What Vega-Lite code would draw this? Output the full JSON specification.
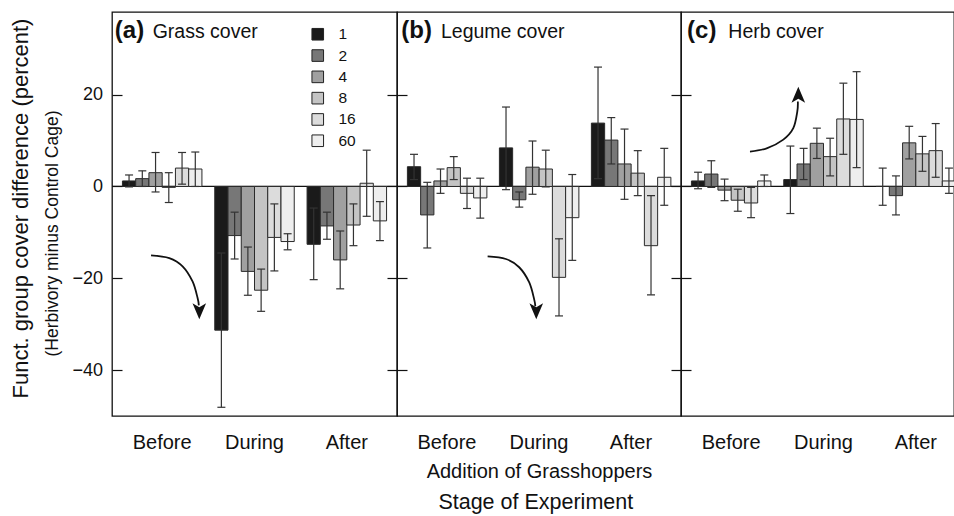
{
  "$schema": "https://vega.github.io/schema/vega-lite/v6.json",
  "padding": {"left": 8, "top": 11, "right": 0, "bottom": 0},
  "config": {
    "font": "Liberation Sans",
    "view": {"stroke": "#111", "strokeWidth": 1.3},
    "axis": {"minExtent": 0, "grid": false}
  },
  "datasets": {
    "bars": [
      {"panel": "a", "stage": "Before", "n": "1", "mean": 1.2, "lo": -0.1, "hi": 2.5},
      {"panel": "a", "stage": "Before", "n": "2", "mean": 1.7, "lo": 0.0, "hi": 3.4},
      {"panel": "a", "stage": "Before", "n": "4", "mean": 3.0, "lo": -1.2, "hi": 7.4},
      {"panel": "a", "stage": "Before", "n": "8", "mean": -0.2, "lo": -3.5, "hi": 3.0},
      {"panel": "a", "stage": "Before", "n": "16", "mean": 4.0, "lo": 0.5, "hi": 7.4},
      {"panel": "a", "stage": "Before", "n": "60", "mean": 3.8, "lo": 0.0, "hi": 7.5},
      {"panel": "a", "stage": "During", "n": "1", "mean": -31.3, "lo": -48.1, "hi": -14.5},
      {"panel": "a", "stage": "During", "n": "2", "mean": -10.7, "lo": -15.8, "hi": -5.6},
      {"panel": "a", "stage": "During", "n": "4", "mean": -18.5, "lo": -23.7, "hi": -13.2},
      {"panel": "a", "stage": "During", "n": "8", "mean": -22.6, "lo": -27.2, "hi": -18.0},
      {"panel": "a", "stage": "During", "n": "16", "mean": -11.1, "lo": -18.4, "hi": -3.8},
      {"panel": "a", "stage": "During", "n": "60", "mean": -12.0, "lo": -13.8, "hi": -10.3},
      {"panel": "a", "stage": "After", "n": "1", "mean": -12.6, "lo": -20.3, "hi": -4.7},
      {"panel": "a", "stage": "After", "n": "2", "mean": -8.6, "lo": -11.5, "hi": -5.6},
      {"panel": "a", "stage": "After", "n": "4", "mean": -16.0, "lo": -22.3, "hi": -9.7},
      {"panel": "a", "stage": "After", "n": "8", "mean": -8.4, "lo": -12.9, "hi": -3.8},
      {"panel": "a", "stage": "After", "n": "16", "mean": 0.7, "lo": -6.5, "hi": 7.9},
      {"panel": "a", "stage": "After", "n": "60", "mean": -7.5, "lo": -11.8, "hi": -3.3},
      {"panel": "b", "stage": "Before", "n": "1", "mean": 4.3, "lo": 1.5, "hi": 7.0},
      {"panel": "b", "stage": "Before", "n": "2", "mean": -6.2, "lo": -13.4, "hi": 0.9},
      {"panel": "b", "stage": "Before", "n": "4", "mean": 1.2, "lo": -1.5, "hi": 3.8},
      {"panel": "b", "stage": "Before", "n": "8", "mean": 4.1, "lo": 1.5, "hi": 6.5},
      {"panel": "b", "stage": "Before", "n": "16", "mean": -1.5, "lo": -4.8, "hi": 1.8},
      {"panel": "b", "stage": "Before", "n": "60", "mean": -2.5, "lo": -6.9, "hi": 1.8},
      {"panel": "b", "stage": "During", "n": "1", "mean": 8.4, "lo": -0.7, "hi": 17.3},
      {"panel": "b", "stage": "During", "n": "2", "mean": -2.9, "lo": -4.5, "hi": -1.2},
      {"panel": "b", "stage": "During", "n": "4", "mean": 4.2, "lo": -1.7, "hi": 9.9},
      {"panel": "b", "stage": "During", "n": "8", "mean": 3.8, "lo": -0.1, "hi": 7.9},
      {"panel": "b", "stage": "During", "n": "16", "mean": -19.8, "lo": -28.2, "hi": -11.4},
      {"panel": "b", "stage": "During", "n": "60", "mean": -6.8, "lo": -16.1, "hi": 2.6},
      {"panel": "b", "stage": "After", "n": "1", "mean": 13.8, "lo": 1.7, "hi": 26.0},
      {"panel": "b", "stage": "After", "n": "2", "mean": 10.1, "lo": 4.9, "hi": 15.0},
      {"panel": "b", "stage": "After", "n": "4", "mean": 4.9, "lo": -2.8, "hi": 12.5},
      {"panel": "b", "stage": "After", "n": "8", "mean": 2.9, "lo": -2.0, "hi": 7.8},
      {"panel": "b", "stage": "After", "n": "16", "mean": -12.9, "lo": -23.6, "hi": -2.0},
      {"panel": "b", "stage": "After", "n": "60", "mean": 2.0, "lo": -4.1, "hi": 8.3},
      {"panel": "c", "stage": "Before", "n": "1", "mean": 1.2, "lo": -0.5, "hi": 3.1},
      {"panel": "c", "stage": "Before", "n": "2", "mean": 2.7, "lo": -0.2, "hi": 5.6},
      {"panel": "c", "stage": "Before", "n": "4", "mean": -0.8, "lo": -3.1, "hi": 1.6},
      {"panel": "c", "stage": "Before", "n": "8", "mean": -3.0, "lo": -5.4, "hi": -0.6},
      {"panel": "c", "stage": "Before", "n": "16", "mean": -3.6, "lo": -6.8, "hi": -0.2},
      {"panel": "c", "stage": "Before", "n": "60", "mean": 1.2, "lo": 0.0, "hi": 2.5},
      {"panel": "c", "stage": "During", "n": "1", "mean": 1.5, "lo": -5.9, "hi": 8.8},
      {"panel": "c", "stage": "During", "n": "2", "mean": 4.9, "lo": 1.5, "hi": 8.3},
      {"panel": "c", "stage": "During", "n": "4", "mean": 9.4, "lo": 6.1, "hi": 12.7},
      {"panel": "c", "stage": "During", "n": "8", "mean": 6.5, "lo": 2.3, "hi": 10.5},
      {"panel": "c", "stage": "During", "n": "16", "mean": 14.7, "lo": 7.0, "hi": 22.5},
      {"panel": "c", "stage": "During", "n": "60", "mean": 14.6, "lo": 4.1, "hi": 25.0},
      {"panel": "c", "stage": "After", "n": "1", "mean": 0.0, "lo": -4.1, "hi": 4.0},
      {"panel": "c", "stage": "After", "n": "2", "mean": -2.0, "lo": -6.2, "hi": 2.3},
      {"panel": "c", "stage": "After", "n": "4", "mean": 9.5, "lo": 6.0, "hi": 13.1},
      {"panel": "c", "stage": "After", "n": "8", "mean": 7.1, "lo": 3.3, "hi": 10.9},
      {"panel": "c", "stage": "After", "n": "16", "mean": 7.8, "lo": 2.0, "hi": 13.7},
      {"panel": "c", "stage": "After", "n": "60", "mean": 1.2, "lo": -1.5, "hi": 4.0}
    ],
    "arrows": [
      {"panel": "a", "ord": 1, "ax": 0.411, "ay": -15.0},
      {"panel": "a", "ord": 2, "ax": 0.603, "ay": -15.6},
      {"panel": "a", "ord": 3, "ax": 0.743, "ay": -17.4},
      {"panel": "a", "ord": 4, "ax": 0.848, "ay": -20.7},
      {"panel": "a", "ord": 5, "ax": 0.901, "ay": -24.3},
      {"panel": "a", "ord": 6, "ax": 0.914, "ay": -25.9},
      {"panel": "b", "ord": 1, "ax": 0.954, "ay": -15.25},
      {"panel": "b", "ord": 2, "ax": 1.146, "ay": -15.8},
      {"panel": "b", "ord": 3, "ax": 1.286, "ay": -17.6},
      {"panel": "b", "ord": 4, "ax": 1.392, "ay": -20.9},
      {"panel": "b", "ord": 5, "ax": 1.444, "ay": -24.6},
      {"panel": "b", "ord": 6, "ax": 1.456, "ay": -26.1},
      {"panel": "c", "ord": 1, "ax": 0.726, "ay": 7.6},
      {"panel": "c", "ord": 2, "ax": 0.902, "ay": 8.3},
      {"panel": "c", "ord": 3, "ax": 1.077, "ay": 10.2},
      {"panel": "c", "ord": 4, "ax": 1.182, "ay": 12.7},
      {"panel": "c", "ord": 5, "ax": 1.224, "ay": 16.3},
      {"panel": "c", "ord": 6, "ax": 1.23, "ay": 18.5}
    ],
    "heads": [
      {"panel": "a", "ax": 0.919, "ay": -27.2},
      {"panel": "b", "ax": 1.466, "ay": -27.2},
      {"panel": "c", "ax": 1.235, "ay": 20.0}
    ],
    "labels": [
      {"panel": "a", "kind": "letter", "label": "(a)", "ax": 0.03, "ay": 32.3},
      {"panel": "a", "kind": "name", "label": "Grass cover", "ax": 0.428, "ay": 32.3},
      {"panel": "b", "kind": "letter", "label": "(b)", "ax": 0.045, "ay": 32.3},
      {"panel": "b", "kind": "name", "label": "Legume cover", "ax": 0.463, "ay": 32.3},
      {"panel": "c", "kind": "letter", "label": "(c)", "ax": 0.064, "ay": 32.3},
      {"panel": "c", "kind": "name", "label": "Herb cover", "ax": 0.498, "ay": 32.3}
    ]
  },
  "spacing": 0,
  "bounds": "flush",
  "resolve": {"legend": {"color": "independent"}},
  "title": {"text": "Stage of Experiment", "orient": "bottom", "anchor": "middle", "fontSize": 21.5, "fontWeight": "normal", "font": "Liberation Sans", "color": "#111", "offset": 10, "dx": 48},
  "hconcat": [
    {
      "width": 285, "height": 404,
      "resolve": {"scale": {"x": "independent"}, "axis": {"x": "independent", "y": "independent"}},
      "layer": [
        {
          "data": {"values": [{}]},
          "mark": {"type": "rule", "color": "#111", "strokeWidth": 1.2},
          "encoding": {"y": {"datum": 0, "type": "quantitative", "scale": {"domain": [-50, 38], "nice": false, "zero": false},
            "axis": {"orient": "left", "labels": false, "ticks": false, "domain": false, "title": "Funct. group cover difference (percent)", "titleFontSize": 22, "titleFontWeight": "normal", "titleColor": "#111", "titleFont": "Liberation Sans", "titleX": -79.4, "titleY": 196, "titleAngle": 270, "titleBaseline": "bottom", "titleAlign": "center"}}}
        },
        {
          "data": {"name": "bars"},
          "transform": [{"filter": "datum.panel === 'a'"}],
          "encoding": {
            "x": {"field": "stage", "type": "nominal", "sort": ["Before", "During", "After"], "scale": {"paddingInner": 0.139, "paddingOuter": 0.113},
              "axis": {"labelAngle": 0, "ticks": false, "tickSize": 0, "domain": false, "labelFontSize": 20, "labelPadding": 16, "labelColor": "#111", "labelFont": "Liberation Sans", "title": null}},
            "xOffset": {"field": "n", "type": "nominal", "sort": ["1", "2", "4", "8", "16", "60"], "scale": {"paddingInner": 0, "paddingOuter": 0}}
          },
          "layer": [
            {
              "mark": {"type": "bar", "stroke": "#2a2a2a", "strokeWidth": 1},
              "encoding": {
                "y": {"field": "mean", "type": "quantitative", "scale": {"domain": [-50, 38], "nice": false, "zero": false},
                  "axis": {"orient": "left", "values": [-40, -20, 0, 20], "tickSize": -10, "tickWidth": 1.2, "tickColor": "#111", "labelPadding": 19.4, "labelFontSize": 18, "labelColor": "#111", "labelFont": "Liberation Sans", "domain": false, "title": "(Herbivory minus Control Cage)", "titleFontSize": 17.5, "titleFontWeight": "normal", "titleColor": "#111", "titleFont": "Liberation Sans", "titleX": -51, "titleY": 221, "titleAngle": 270, "titleBaseline": "bottom", "titleAlign": "center"}},
                "color": {"field": "n", "type": "nominal", "sort": ["1", "2", "4", "8", "16", "60"],
                  "scale": {"domain": ["1", "2", "4", "8", "16", "60"], "range": ["#1a1a1a", "#777777", "#a0a0a0", "#c4c4c4", "#dcdcdc", "#eeeeee"]},
                  "legend": {"orient": "none", "legendX": 198, "legendY": 14.5, "title": null, "symbolType": "square", "symbolSize": 135, "symbolStrokeColor": "#222", "symbolStrokeWidth": 1, "symbolOpacity": 1, "labelFontSize": 15.5, "labelColor": "#111", "labelFont": "Liberation Sans", "labelOffset": 13, "rowPadding": 3.3}}
              }
            },
            {
              "mark": {"type": "rule", "color": "#333", "strokeWidth": 1.2},
              "encoding": {"y": {"field": "lo", "type": "quantitative"}, "y2": {"field": "hi"}}
            },
            {
              "mark": {"type": "tick", "orient": "horizontal", "size": 8, "thickness": 1.2, "color": "#333", "opacity": 1},
              "encoding": {"y": {"field": "lo", "type": "quantitative"}}
            },
            {
              "mark": {"type": "tick", "orient": "horizontal", "size": 8, "thickness": 1.2, "color": "#333", "opacity": 1},
              "encoding": {"y": {"field": "hi", "type": "quantitative"}}
            }
          ]
        },
        {
          "layer": [
            {
              "data": {"name": "arrows"},
              "transform": [{"filter": "datum.panel === 'a'"}],
              "mark": {"type": "line", "interpolate": "cardinal", "color": "#111", "strokeWidth": 1.8},
              "encoding": {
                "x": {"field": "ax", "type": "quantitative", "scale": {"domain": [0, 3], "range": [0, 285], "nice": false, "zero": false}, "axis": null},
                "y": {"field": "ay", "type": "quantitative", "scale": {"domain": [-50, 38], "nice": false, "zero": false},
                  "axis": {"orient": "right", "values": [-40, -20, 0, 20], "tickSize": -10, "tickWidth": 1.2, "tickColor": "#111", "labels": false, "domain": false, "title": null}},
                "order": {"field": "ord", "type": "quantitative"}
              }
            },
            {
              "data": {"name": "heads"},
              "transform": [{"filter": "datum.panel === 'a'"}],
              "mark": {"type": "point", "shape": "M0,1L-0.85,-1L0,-0.5L0.85,-1Z", "filled": true, "color": "#111", "size": 256, "opacity": 1},
              "encoding": {"x": {"field": "ax", "type": "quantitative"}, "y": {"field": "ay", "type": "quantitative"}}
            },
            {
              "data": {"name": "labels"},
              "transform": [{"filter": "datum.panel === 'a' && datum.kind === 'letter'"}],
              "mark": {"type": "text", "align": "left", "baseline": "alphabetic", "fontSize": 24, "fontWeight": "bold", "color": "#111", "font": "Liberation Sans"},
              "encoding": {"x": {"field": "ax", "type": "quantitative"}, "y": {"field": "ay", "type": "quantitative"}, "text": {"field": "label"}}
            },
            {
              "data": {"name": "labels"},
              "transform": [{"filter": "datum.panel === 'a' && datum.kind === 'name'"}],
              "mark": {"type": "text", "align": "left", "baseline": "alphabetic", "fontSize": 19.5, "color": "#111", "font": "Liberation Sans"},
              "encoding": {"x": {"field": "ax", "type": "quantitative"}, "y": {"field": "ay", "type": "quantitative"}, "text": {"field": "label"}}
            }
          ]
        }
      ]
    },
    {
      "width": 284, "height": 404,
      "resolve": {"scale": {"x": "independent"}, "axis": {"x": "independent", "y": "independent"}},
      "layer": [
        {
          "data": {"values": [{}]},
          "mark": {"type": "rule", "color": "#111", "strokeWidth": 1.2},
          "encoding": {"y": {"datum": 0, "type": "quantitative", "scale": {"domain": [-50, 38], "nice": false, "zero": false}, "axis": null}}
        },
        {
          "data": {"name": "bars"},
          "transform": [{"filter": "datum.panel === 'b'"}],
          "encoding": {
            "x": {"field": "stage", "type": "nominal", "sort": ["Before", "During", "After"], "scale": {"paddingInner": 0.139, "paddingOuter": 0.113},
              "axis": {"labelAngle": 0, "ticks": false, "tickSize": 0, "domain": false, "labelFontSize": 20, "labelPadding": 16, "labelColor": "#111", "labelFont": "Liberation Sans", "title": "Addition of Grasshoppers", "titleFontSize": 20, "titleFontWeight": "normal", "titleColor": "#111", "titleFont": "Liberation Sans", "titlePadding": 9}},
            "xOffset": {"field": "n", "type": "nominal", "sort": ["1", "2", "4", "8", "16", "60"], "scale": {"paddingInner": 0, "paddingOuter": 0}}
          },
          "layer": [
            {
              "mark": {"type": "bar", "stroke": "#2a2a2a", "strokeWidth": 1},
              "encoding": {
                "y": {"field": "mean", "type": "quantitative", "scale": {"domain": [-50, 38], "nice": false, "zero": false},
                  "axis": {"orient": "left", "values": [-40, -20, 0, 20], "tickSize": -10, "tickWidth": 1.2, "tickColor": "#111", "labels": false, "domain": false, "title": null}},
                "color": {"field": "n", "type": "nominal", "sort": ["1", "2", "4", "8", "16", "60"],
                  "scale": {"domain": ["1", "2", "4", "8", "16", "60"], "range": ["#1a1a1a", "#777777", "#a0a0a0", "#c4c4c4", "#dcdcdc", "#eeeeee"]}, "legend": null}
              }
            },
            {
              "mark": {"type": "rule", "color": "#333", "strokeWidth": 1.2},
              "encoding": {"y": {"field": "lo", "type": "quantitative"}, "y2": {"field": "hi"}}
            },
            {
              "mark": {"type": "tick", "orient": "horizontal", "size": 8, "thickness": 1.2, "color": "#333", "opacity": 1},
              "encoding": {"y": {"field": "lo", "type": "quantitative"}}
            },
            {
              "mark": {"type": "tick", "orient": "horizontal", "size": 8, "thickness": 1.2, "color": "#333", "opacity": 1},
              "encoding": {"y": {"field": "hi", "type": "quantitative"}}
            }
          ]
        },
        {
          "layer": [
            {
              "data": {"name": "arrows"},
              "transform": [{"filter": "datum.panel === 'b'"}],
              "mark": {"type": "line", "interpolate": "cardinal", "color": "#111", "strokeWidth": 1.8},
              "encoding": {
                "x": {"field": "ax", "type": "quantitative", "scale": {"domain": [0, 3], "range": [0, 285], "nice": false, "zero": false}, "axis": null},
                "y": {"field": "ay", "type": "quantitative", "scale": {"domain": [-50, 38], "nice": false, "zero": false},
                  "axis": {"orient": "right", "values": [-40, -20, 0, 20], "tickSize": -10, "tickWidth": 1.2, "tickColor": "#111", "labels": false, "domain": false, "title": null}},
                "order": {"field": "ord", "type": "quantitative"}
              }
            },
            {
              "data": {"name": "heads"},
              "transform": [{"filter": "datum.panel === 'b'"}],
              "mark": {"type": "point", "shape": "M0,1L-0.85,-1L0,-0.5L0.85,-1Z", "filled": true, "color": "#111", "size": 256, "opacity": 1},
              "encoding": {"x": {"field": "ax", "type": "quantitative"}, "y": {"field": "ay", "type": "quantitative"}}
            },
            {
              "data": {"name": "labels"},
              "transform": [{"filter": "datum.panel === 'b' && datum.kind === 'letter'"}],
              "mark": {"type": "text", "align": "left", "baseline": "alphabetic", "fontSize": 24, "fontWeight": "bold", "color": "#111", "font": "Liberation Sans"},
              "encoding": {"x": {"field": "ax", "type": "quantitative"}, "y": {"field": "ay", "type": "quantitative"}, "text": {"field": "label"}}
            },
            {
              "data": {"name": "labels"},
              "transform": [{"filter": "datum.panel === 'b' && datum.kind === 'name'"}],
              "mark": {"type": "text", "align": "left", "baseline": "alphabetic", "fontSize": 19.5, "color": "#111", "font": "Liberation Sans"},
              "encoding": {"x": {"field": "ax", "type": "quantitative"}, "y": {"field": "ay", "type": "quantitative"}, "text": {"field": "label"}}
            }
          ]
        }
      ]
    },
    {
      "width": 273, "height": 404,
      "resolve": {"scale": {"x": "independent"}, "axis": {"x": "independent", "y": "independent"}},
      "layer": [
        {
          "data": {"values": [{}]},
          "mark": {"type": "rule", "color": "#111", "strokeWidth": 1.2},
          "encoding": {"y": {"datum": 0, "type": "quantitative", "scale": {"domain": [-50, 38], "nice": false, "zero": false}, "axis": null}}
        },
        {
          "data": {"name": "bars"},
          "transform": [{"filter": "datum.panel === 'c'"}],
          "encoding": {
            "x": {"field": "stage", "type": "nominal", "sort": ["Before", "During", "After"], "scale": {"paddingInner": 0.139, "paddingOuter": 0.113, "range": [0, 285]},
              "axis": {"labelAngle": 0, "ticks": false, "tickSize": 0, "domain": false, "labelFontSize": 20, "labelPadding": 16, "labelColor": "#111", "labelFont": "Liberation Sans", "title": null}},
            "xOffset": {"field": "n", "type": "nominal", "sort": ["1", "2", "4", "8", "16", "60"], "scale": {"paddingInner": 0, "paddingOuter": 0}}
          },
          "layer": [
            {
              "mark": {"type": "bar", "stroke": "#2a2a2a", "strokeWidth": 1, "clip": true},
              "encoding": {
                "y": {"field": "mean", "type": "quantitative", "scale": {"domain": [-50, 38], "nice": false, "zero": false},
                  "axis": {"orient": "left", "values": [-40, -20, 0, 20], "tickSize": -10, "tickWidth": 1.2, "tickColor": "#111", "labels": false, "domain": false, "title": null}},
                "color": {"field": "n", "type": "nominal", "sort": ["1", "2", "4", "8", "16", "60"],
                  "scale": {"domain": ["1", "2", "4", "8", "16", "60"], "range": ["#1a1a1a", "#777777", "#a0a0a0", "#c4c4c4", "#dcdcdc", "#eeeeee"]}, "legend": null}
              }
            },
            {
              "mark": {"type": "rule", "color": "#333", "strokeWidth": 1.2, "clip": true},
              "encoding": {"y": {"field": "lo", "type": "quantitative"}, "y2": {"field": "hi"}}
            },
            {
              "mark": {"type": "tick", "orient": "horizontal", "size": 8, "thickness": 1.2, "color": "#333", "opacity": 1, "clip": true},
              "encoding": {"y": {"field": "lo", "type": "quantitative"}}
            },
            {
              "mark": {"type": "tick", "orient": "horizontal", "size": 8, "thickness": 1.2, "color": "#333", "opacity": 1, "clip": true},
              "encoding": {"y": {"field": "hi", "type": "quantitative"}}
            }
          ]
        },
        {
          "layer": [
            {
              "data": {"name": "arrows"},
              "transform": [{"filter": "datum.panel === 'c'"}],
              "mark": {"type": "line", "interpolate": "cardinal", "color": "#111", "strokeWidth": 1.8},
              "encoding": {
                "x": {"field": "ax", "type": "quantitative", "scale": {"domain": [0, 3], "range": [0, 285], "nice": false, "zero": false}, "axis": null},
                "y": {"field": "ay", "type": "quantitative", "scale": {"domain": [-50, 38], "nice": false, "zero": false}, "axis": null},
                "order": {"field": "ord", "type": "quantitative"}
              }
            },
            {
              "data": {"name": "heads"},
              "transform": [{"filter": "datum.panel === 'c'"}],
              "mark": {"type": "point", "shape": "M0,-1L-0.85,1L0,0.5L0.85,1Z", "filled": true, "color": "#111", "size": 256, "opacity": 1},
              "encoding": {"x": {"field": "ax", "type": "quantitative"}, "y": {"field": "ay", "type": "quantitative"}}
            },
            {
              "data": {"name": "labels"},
              "transform": [{"filter": "datum.panel === 'c' && datum.kind === 'letter'"}],
              "mark": {"type": "text", "align": "left", "baseline": "alphabetic", "fontSize": 24, "fontWeight": "bold", "color": "#111", "font": "Liberation Sans"},
              "encoding": {"x": {"field": "ax", "type": "quantitative"}, "y": {"field": "ay", "type": "quantitative"}, "text": {"field": "label"}}
            },
            {
              "data": {"name": "labels"},
              "transform": [{"filter": "datum.panel === 'c' && datum.kind === 'name'"}],
              "mark": {"type": "text", "align": "left", "baseline": "alphabetic", "fontSize": 19.5, "color": "#111", "font": "Liberation Sans"},
              "encoding": {"x": {"field": "ax", "type": "quantitative"}, "y": {"field": "ay", "type": "quantitative"}, "text": {"field": "label"}}
            }
          ]
        }
      ]
    }
  ]
}
